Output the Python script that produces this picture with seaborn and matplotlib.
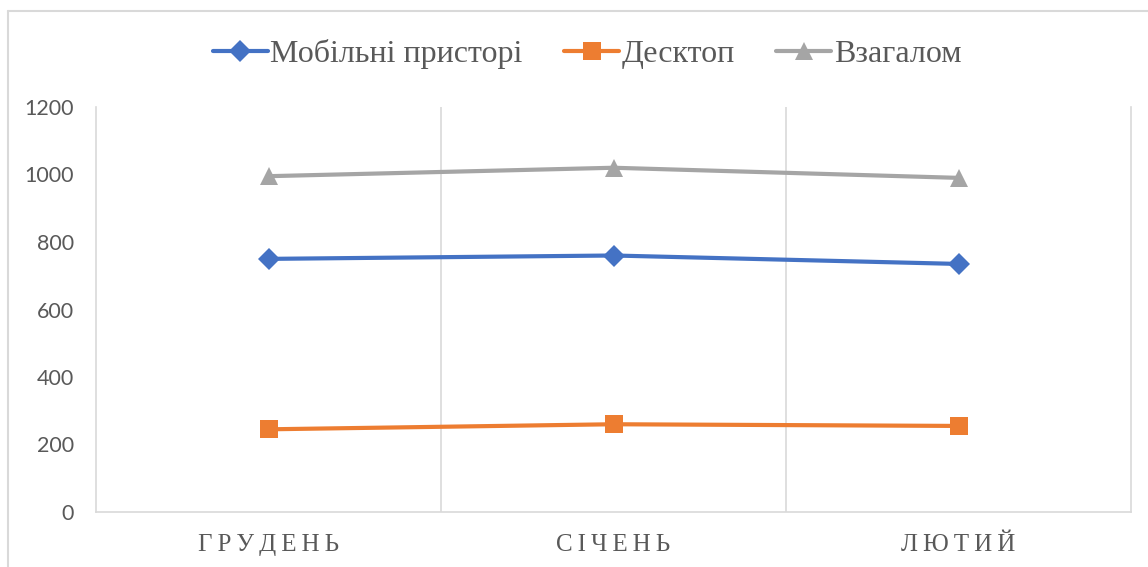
import matplotlib
matplotlib.use("Agg")
import matplotlib.pyplot as plt
from matplotlib.lines import Line2D
import seaborn as sns
import pandas as pd

# Monthly visits by device type
months = ["ГРУДЕНЬ", "СІЧЕНЬ", "ЛЮТИЙ"]
mobile = [750, 760, 735]
desktop = [245, 260, 255]
total = [995, 1020, 990]
series_names = ["Мобільні присторі", "Десктоп", "Взагалом"]

df = pd.DataFrame({
    "month": months * 3,
    "value": mobile + desktop + total,
    "series": [series_names[0]] * 3 + [series_names[1]] * 3 + [series_names[2]] * 3,
})
df["pos"] = df["month"].map({m: i for i, m in enumerate(months)})

palette = {series_names[0]: "#4472C4", series_names[1]: "#ED7D31", series_names[2]: "#A5A5A5"}
markers = {series_names[0]: "D", series_names[1]: "s", series_names[2]: "^"}
msizes = {series_names[0]: 11, series_names[1]: 12.5, series_names[2]: 12.5}

sns.set_theme(style="white")
W, H = 1148, 567
fig = plt.figure(figsize=(W / 100, H / 100), dpi=100)
ax = fig.add_axes([96 / W, (H - 512) / H, (1131 - 96) / W, (512 - 107) / H])

grid_c = "#D9D9D9"
for s in series_names:
    sub = df[df["series"] == s]
    sns.lineplot(data=sub, x="pos", y="value", color=palette[s], marker=markers[s],
                 markersize=msizes[s], markeredgewidth=0, linewidth=3,
                 ax=ax, label=s, zorder=3)

ax.set_xlim(-0.5, 2.5)
ax.set_ylim(0, 1200)
ax.set_yticks(range(0, 1201, 200))
ax.set_xticks(range(len(months)))
spaced = ["\u2009".join(m) for m in months]
ax.set_xticklabels(spaced, family="Liberation Serif", fontsize=18, color="#595959")
ax.set_yticklabels([str(v) for v in range(0, 1201, 200)], family="Lato",
                   fontsize=15.5, color="#595959")
ax.tick_params(axis="y", length=0, pad=16)
ax.tick_params(axis="x", length=0, pad=16)
ax.set_xlabel("")
ax.set_ylabel("")

for x in [0.5, 1.5]:
    ax.axvline(x, color=grid_c, linewidth=1.2, zorder=1)
for side in ["left", "right", "bottom"]:
    ax.spines[side].set_color(grid_c)
    ax.spines[side].set_linewidth(1.2)
ax.spines["top"].set_visible(False)

handles = [Line2D([], [], color=palette[s], marker=markers[s], markersize=msizes[s],
                  markeredgewidth=0, linewidth=3) for s in series_names]
ax.legend(handles, series_names, loc="center", bbox_to_anchor=(587 / W, (H - 54) / H),
          bbox_transform=fig.transFigure, ncol=3, frameon=False,
          prop={"family": "Liberation Serif", "size": 23}, labelcolor="#595959",
          handlelength=1.72, handletextpad=0.08, columnspacing=1.3)

# chart frame
fig.add_artist(Line2D([8 / W, 8 / W], [0, (H - 11) / H], color=grid_c, linewidth=1.5,
                      transform=fig.transFigure))
fig.add_artist(Line2D([8 / W, 1], [(H - 11) / H, (H - 11) / H], color=grid_c,
                      linewidth=1.5, transform=fig.transFigure))

fig.savefig("out.png", dpi=100, facecolor="white")
